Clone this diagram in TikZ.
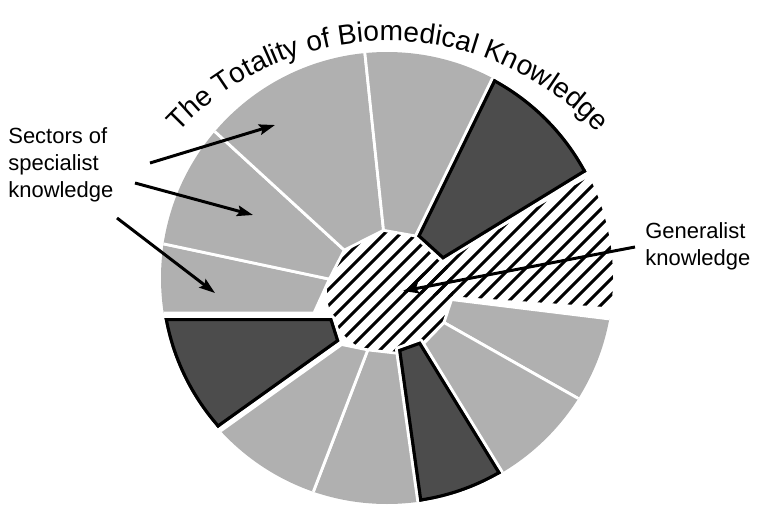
\documentclass[tikz,border=0pt]{standalone}
\usepackage{fontspec}
\setmainfont{Liberation Sans}
\usetikzlibrary{arrows.meta,decorations.text}
\definecolor{lightsec}{gray}{0.69}
\definecolor{darksec}{gray}{0.30}
\newcommand{\titlefont}{\fontsize{16}{19}\selectfont}
\newcommand{\darkwedge}[1]{%
  \draw[white, line width=3.5pt, line join=round] #1;
  \fill[darksec] #1;
  \begin{scope}
    \clip #1;
    \draw[black, line width=3.5pt] #1;
    \draw[black, line width=3.5pt] (-3,14) circle (226);
  \end{scope}}
\tikzset{
  light/.style={fill=lightsec, draw=white, line width=1.6pt, line join=round},
  hatchline/.style={line width=1.7pt},
  pointer/.style={line width=1.7pt, -{Stealth[length=9pt,width=6pt,inset=1.5pt]}},
  labeltext/.style={font=\fontsize{12.5}{15.5}\selectfont, align=left, inner sep=0pt, anchor=north west}
}
\begin{document}
\begin{tikzpicture}[x=0.02cm, y=0.02cm]
  \useasboundingbox (0,0) rectangle (758,505);
  \begin{scope}[shift={(390,213)}]
    \clip (-3,14) circle (226);
    % generalist hub and wedge
    \begin{scope}
      \clip (0,0) circle (63);
      \foreach \k in {-20,...,20} \draw[hatchline] ({16*\k-300},-300) -- ++(600,600);
    \end{scope}
    \begin{scope}
      \clip (0,0) -- (-4:400) -- (30:400) -- cycle;
      \foreach \k in {-20,...,20} \draw[hatchline] ({16*\k-300},-300) -- ++(600,600);
    \end{scope}
    % specialist sectors
    \filldraw[light] (-29.5:62) -- (-29.5:400) -- (-7:400) -- (-7:62) -- cycle;
    \filldraw[light] (-58.5:62) -- (-58.5:400) -- (-29.5:400) -- (-29.5:62) -- cycle;
    \filldraw[light] (-111:62) -- (-111:400) -- (-82:400) -- (-82:62) -- cycle;
    \filldraw[light] (-111:62) -- (-111:400) -- (-374,-285) -- (-48.3,-52.5) -- cycle;
    \filldraw[light] (168:62) -- (168:400) -- (-400,-21) -- (-76,-21) -- cycle;
    \filldraw[light] (137.5:62) -- (137.5:400) -- (168:400) -- (168:62) -- cycle;
    \filldraw[light] (96:62) -- (96:400) -- (137.5:400) -- (137.5:62) -- cycle;
    \filldraw[light] (64:62) -- (64:400) -- (96:400) -- (96:62) -- cycle;
    \darkwedge{(31.5:62) -- (31.5:400) -- (64:400) -- (64:62) -- cycle}
    \darkwedge{(-82:58) -- (-82:400) -- (-58.5:400) -- (-58.5:58) -- cycle}
    \darkwedge{(-58,-26) -- (-418,-26) -- (-343.6,-258.3) -- (-50.6,-49.2) -- cycle}
  \end{scope}
  \path[decorate, decoration={text along path, text align=center,
    text={|\titlefont|The Totality of Biomedical Knowledge}}]
    (388,178) ++(150:286) arc[start angle=150, end angle=30, radius=286];
  \node[labeltext] (spec) at (8,378) {Sectors of\\specialist\\knowledge};
  \node[labeltext] (gen) at (645,283) {Generalist\\knowledge};
  \coordinate (s1) at (150,342);
  \coordinate (t1) at (275,380);
  \coordinate (s2) at (135,322);
  \coordinate (t2) at (253,290);
  \coordinate (s3) at (117,287);
  \coordinate (t3) at (215,212);
  \coordinate (g1) at (635,258);
  \coordinate (t4) at (403,214);
  \draw[pointer] (s1) -- (t1);
  \draw[pointer] (s2) -- (t2);
  \draw[pointer] (s3) -- (t3);
  \draw[pointer] (g1) -- (t4);
\end{tikzpicture}
\end{document}
